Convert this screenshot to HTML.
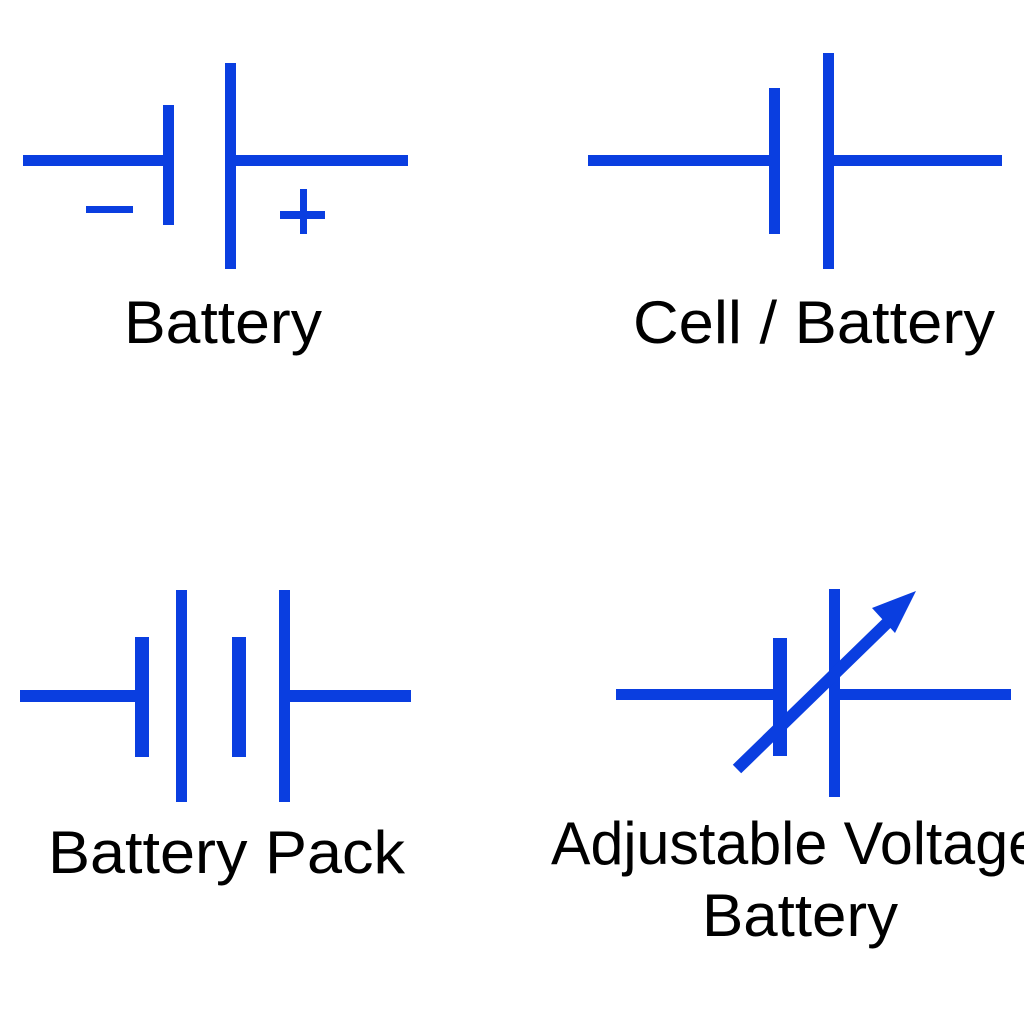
<!DOCTYPE html>
<html><head><style>html,body{margin:0;padding:0;background:#fff;}svg{display:block}</style></head>
<body>
<svg width="1024" height="1024" viewBox="0 0 1024 1024" xmlns="http://www.w3.org/2000/svg">
<g fill="#0a3ee0">
<!-- Battery -->
<rect x="23" y="155" width="145" height="11"/>
<rect x="163" y="105" width="11" height="120"/>
<rect x="225" y="63" width="11" height="206"/>
<rect x="234" y="155" width="174" height="11"/>
<rect x="86" y="206" width="47" height="7"/>
<rect x="280" y="211" width="45" height="8"/>
<rect x="300" y="189" width="7" height="45"/>
<!-- Cell -->
<rect x="588" y="155" width="186" height="11"/>
<rect x="769" y="88" width="11" height="146"/>
<rect x="823" y="53" width="11" height="216"/>
<rect x="832" y="155" width="170" height="11"/>
<!-- Pack -->
<rect x="20" y="690" width="120" height="12"/>
<rect x="135" y="637" width="14" height="120"/>
<rect x="176" y="590" width="11" height="212"/>
<rect x="232" y="637" width="14" height="120"/>
<rect x="279" y="590" width="11" height="212"/>
<rect x="288" y="690" width="123" height="12"/>
<!-- Adjustable -->
<rect x="616" y="689" width="162" height="11"/>
<rect x="773" y="638" width="14" height="118"/>
<rect x="829" y="589" width="11" height="208"/>
<rect x="838" y="689" width="173" height="11"/>
<line x1="737" y1="769" x2="888" y2="622" stroke="#0a3ee0" stroke-width="12"/>
<polygon points="916,591 895,633 872,608"/>
</g>
<g font-family="Liberation Sans, Arial, sans-serif" font-size="60" fill="#000">
<text x="124" y="343" textLength="198" lengthAdjust="spacingAndGlyphs">Battery</text>
<text x="633" y="343" textLength="362" lengthAdjust="spacingAndGlyphs">Cell / Battery</text>
<text x="48" y="873" textLength="357" lengthAdjust="spacingAndGlyphs">Battery Pack</text>
<text x="551" y="864" textLength="490" lengthAdjust="spacingAndGlyphs">Adjustable Voltage</text>
<text x="702" y="936" textLength="196" lengthAdjust="spacingAndGlyphs">Battery</text>
</g>
</svg>
</body></html>
